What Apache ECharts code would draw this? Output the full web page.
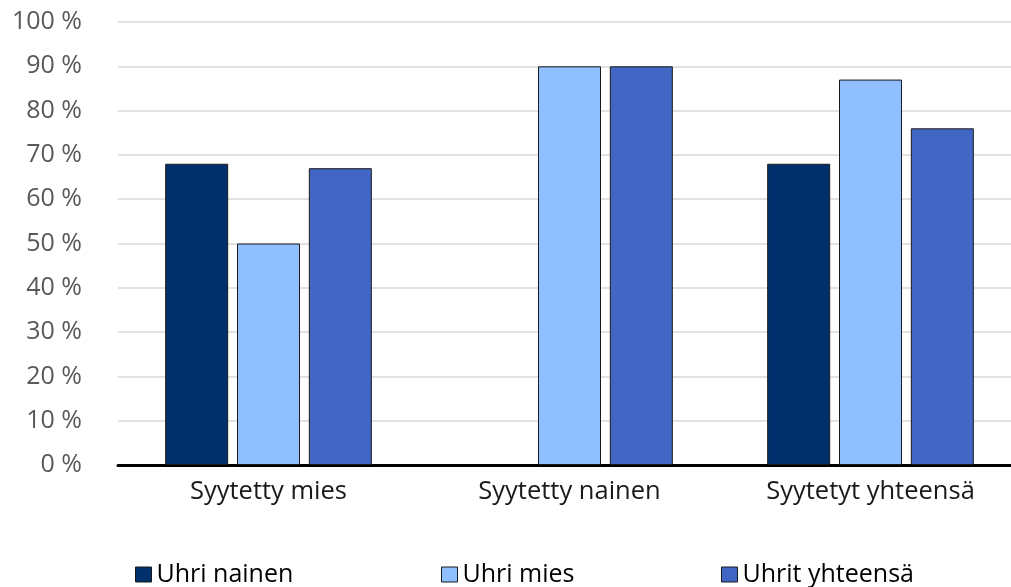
<!DOCTYPE html>
<html>
<head>
<meta charset="utf-8">
<script src="https://cdn.jsdelivr.net/npm/echarts@6/dist/echarts.min.js"></script>
<style>
  html, body { margin: 0; padding: 0; background: #fff; overflow: hidden; }
  /* the plot runs a little past the right edge in the original */
  #chart { width: 1021px; height: 587px; }
</style>
</head>
<body>
<div id="chart"></div>
<script>
  var categories = ['Syytetty mies', 'Syytetty nainen', 'Syytetyt yhteensä'];
  var seriesNames = ['Uhri nainen', 'Uhri mies', 'Uhrit yhteensä'];
  var uhriNainen = [68, null, 68];
  var uhriMies = [50, 90, 87];
  var uhritYhteensa = [67, 90, 76];
  var colors = ['#00306B', '#8FBFFF', '#4166C4'];

  var chart = echarts.init(document.getElementById('chart'));
  var font = '"Open Sans", "Noto Sans", sans-serif';

  function barSeries(i, data) {
    return {
      name: seriesNames[i],
      type: 'bar',
      data: data,
      barWidth: 63,
      barGap: '14%',
      itemStyle: { color: colors[i], borderColor: '#1a1a1a', borderWidth: 1 }
    };
  }

  // three legends so each item can sit where the original put it
  var legendLefts = [130, 436, 716];
  var legends = seriesNames.map(function (n, i) {
    return {
      data: [n],
      left: legendLefts[i],
      top: 557,
      itemWidth: 16,
      itemHeight: 15,
      icon: 'rect',
      itemStyle: { borderColor: '#1a1a1a', borderWidth: 1 },
      textStyle: { fontFamily: font, fontSize: 25, color: '#000' },
      selectedMode: false
    };
  });

  var option = {
    animation: false,
    backgroundColor: '#fff',
    color: colors,
    legend: legends,
    grid: { left: 118, right: 0, top: 22, bottom: 122 },
    xAxis: {
      type: 'category',
      data: categories,
      axisTick: { show: false },
      axisLine: { lineStyle: { color: '#000', width: 3 } },
      axisLabel: { fontFamily: font, fontSize: 25.5, color: '#1a1a1a', margin: 14 }
    },
    yAxis: {
      type: 'value',
      min: 0,
      max: 100,
      interval: 10,
      axisLine: { show: false },
      axisTick: { show: false },
      splitLine: { lineStyle: { color: '#d9d9d9', width: 1.5 } },
      axisLabel: {
        fontFamily: font, fontSize: 25, color: '#595959', margin: 36,
        formatter: function (v) { return v + ' %'; }
      }
    },
    series: [
      barSeries(0, uhriNainen),
      barSeries(1, uhriMies),
      barSeries(2, uhritYhteensa)
    ]
  };

  chart.setOption(option);
</script>
</body>
</html>
